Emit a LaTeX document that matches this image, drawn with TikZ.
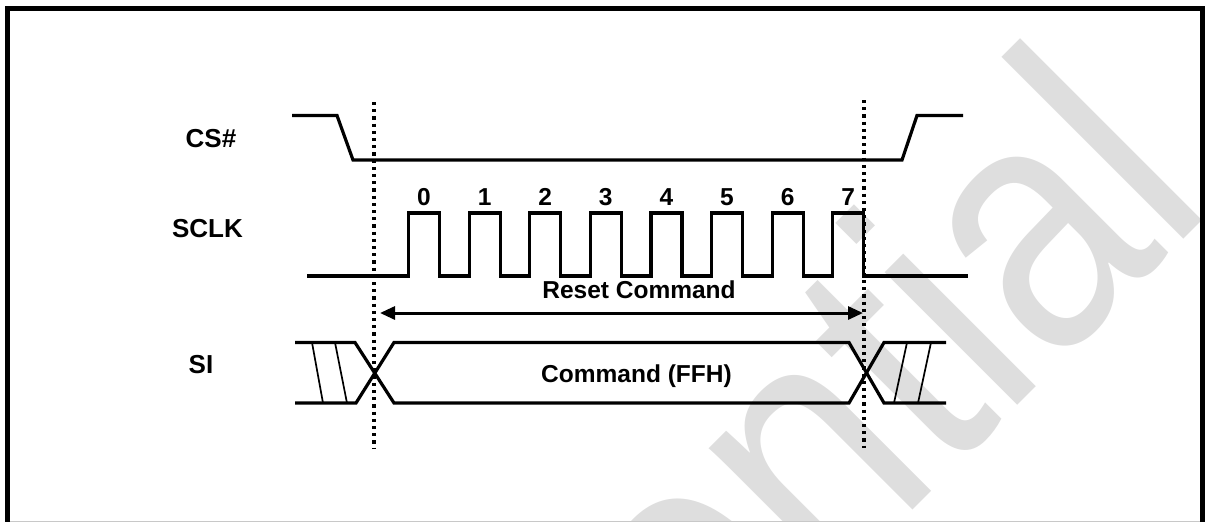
\documentclass[tikz,border=0pt]{standalone}
\usepackage{fontspec}
\setmainfont{Liberation Sans}
\usetikzlibrary{arrows.meta}
\definecolor{wmark}{RGB}{222,222,222}
\definecolor{edgegray}{RGB}{200,200,200}
\begin{document}
\begin{tikzpicture}[x=1pt,y=-1pt,
  wave/.style={line width=3.2pt, line join=miter},
  hatch/.style={line width=1.7pt},
  vgrid/.style={line width=3.6pt, dash pattern=on 3.2pt off 4pt},
  lbl/.style={font=\fontsize{24.5}{24.5}\selectfont\bfseries, inner sep=0pt, anchor=base},
  sig/.style={font=\fontsize{26}{26}\selectfont\bfseries, inner sep=0pt, anchor=base},
  span/.style={line width=3pt, {Triangle[length=15pt,width=13pt]}-{Triangle[length=15pt,width=13pt]}},
  frame/.style={line width=5pt},
  wm/.style={text=wmark, font=\fontsize{355}{355}\selectfont, inner sep=0pt, anchor=base east, rotate=45, xscale=0.845}]
\useasboundingbox (0,0) rectangle (1205,522);
\clip (0,0) rectangle (1205,522);
% watermark
\node[wm] (wmtext) at (1216.5,206.5) {Confidential};
% frame
\draw[frame] (7.5,8.5) rectangle (1202.5,560);
\draw[edgegray, line width=1pt] (10,521) -- (1200,521);
% signal names
\node[sig] (cs) at (211,147) {CS\#};
\node[sig] (sclk) at (207.5,237) {SCLK};
\node[sig] (si) at (201,373) {SI};
% timing markers
\coordinate (g0t) at (374,102);
\coordinate (g0b) at (374,448);
\coordinate (g1t) at (864,100);
\coordinate (g1b) at (864,448);
\draw[vgrid] (g0t) -- (g0b);
\draw[vgrid] (g1t) -- (g1b);
% CS#
\draw[wave] (292,115.5) -- (337,115.5) -- (353,160) -- (902,160) -- (917,115.5) -- (963,115.5);
% SCLK
\draw[wave] (307,276) foreach \k in {0,...,7} { -- ({408.5+60.6*\k},276) -- ({408.5+60.6*\k},213) -- ({439.5+60.6*\k},213) -- ({439.5+60.6*\k},276) } -- (968,276);
\foreach \k in {0,...,7} \node[lbl] (d\k) at ({424+60.6*\k},205) {\k};
% Reset command span
\coordinate (aL) at (380,313);
\coordinate (aR) at (863,313);
\draw[span] (aL) -- (aR);
\node[lbl] (reset) at (639,298) {Reset Command};
% SI bus
\draw[wave] (295,342.5) -- (355,342.5) -- (394,403) -- (849,403) -- (884,342.5) -- (946,342.5);
\draw[wave] (295,403) -- (356,403) -- (394,342.5) -- (849,342.5) -- (884,403) -- (946,403);
\draw[hatch] (312,342.5) -- (323,403);
\draw[hatch] (335,342.5) -- (347,403);
\draw[hatch] (907,342.5) -- (894,403);
\draw[hatch] (931,342.5) -- (918,403);
\node[lbl] (cmd) at (636.5,382) {Command (FFH)};
\end{tikzpicture}
\end{document}
